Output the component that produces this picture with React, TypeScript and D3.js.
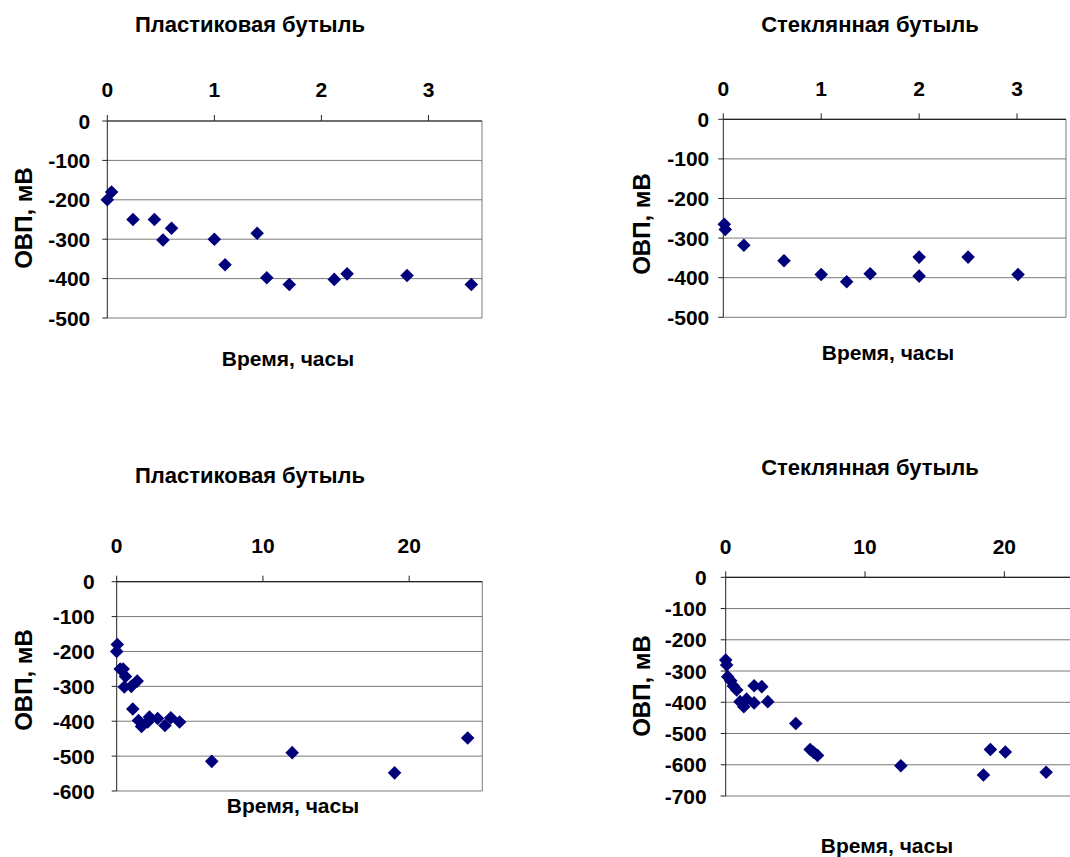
import * as d3 from 'd3';

// ОВП (мВ) по времени (ч)
const plasticShortTime = [0, 0.04, 0.24, 0.44, 0.52, 0.6, 1.0, 1.1, 1.4, 1.49, 1.7, 2.12, 2.24, 2.8, 3.4];
const plasticShortOrp = [-200, -180, -250, -250, -302, -272, -300, -365, -285, -398, -415, -402, -388, -392, -415];

const glassShortTime = [0.01, 0.02, 0.21, 0.62, 1.0, 1.26, 1.5, 2.0, 2.0, 2.5, 3.01];
const glassShortOrp = [-265, -278, -318, -357, -392, -410, -390, -348, -396, -348, -392];

const plasticLongTime = [0, 0.04, 0.24, 0.44, 0.52, 0.6, 1.0, 1.1, 1.4, 1.49, 1.7, 2.12, 2.24, 2.8, 3.3, 3.7, 4.3, 6.5, 12.0, 19.0, 24.0];
const plasticLongOrp = [-200, -180, -250, -250, -302, -272, -300, -365, -285, -398, -415, -402, -388, -392, -412, -390, -402, -515, -490, -548, -448];

const glassLongTime = [0, 0.07, 0.14, 0.36, 0.55, 0.79, 1.03, 1.3, 1.5, 2.04, 2.04, 2.59, 3.02, 5.03, 6.06, 6.3, 6.59, 12.57, 18.5, 19.0, 20.07, 23.0];
const glassLongOrp = [-265, -281, -318, -331, -348, -361, -398, -414, -390, -347, -402, -350, -398, -468, -551, -560, -570, -603, -633, -551, -559, -624];

const shortTicks = [0, 1, 2, 3];
const longTicks = [0, 10, 20];
const orpTicks500 = [0, -100, -200, -300, -400, -500];
const orpTicks600 = [0, -100, -200, -300, -400, -500, -600];
const orpTicks700 = [0, -100, -200, -300, -400, -500, -600, -700];

const titlePlastic = 'Пластиковая бутыль';
const titleGlass = 'Стеклянная бутыль';
const xTitle = 'Время, часы';
const yTitle = 'ОВП, мВ';

const FONT = 'Arimo, "Liberation Sans", Arial, sans-serif';

type PanelProps = {
  title: string;
  xs: number[];
  ys: number[];
  xTicks: number[];
  yTicks: number[];
  xMax: number;
  box: { l: number; r: number; t: number; b: number };
  titlePos: [number, number];
  xLabelPos: [number, number];
  yLabelPos: [number, number];
  xTickY: number;
  yTickGap: number;
};

function Panel(p: PanelProps) {
  const { box } = p;
  const x = d3.scaleLinear().domain([0, p.xMax]).range([box.l, box.r]);
  const y = d3.scaleLinear().domain([d3.min(p.yTicks)!, 0]).range([box.b, box.t]);
  const diamond = d3.symbol(d3.symbolSquare, 92)()!;

  return (
    <g fontFamily={FONT} fontWeight="bold" fill="#000">
      <text x={p.titlePos[0]} y={p.titlePos[1]} textAnchor="middle" fontSize={22}>{p.title}</text>
      <text x={p.xLabelPos[0]} y={p.xLabelPos[1]} textAnchor="middle" fontSize={21}>{xTitle}</text>
      <text transform={`translate(${p.yLabelPos[0]},${p.yLabelPos[1]}) rotate(-90)`} dy="0.36em" textAnchor="middle" fontSize={24}>{yTitle}</text>

      {/* сетка */}
      {p.yTicks.map(v => (
        <line key={'g' + v} x1={box.l} x2={box.r} y1={y(v)} y2={y(v)} stroke="#7a7a7a" strokeWidth={1} />
      ))}
      <line x1={box.r} x2={box.r} y1={box.t} y2={box.b} stroke="#7a7a7a" strokeWidth={1} />

      {/* ось Y */}
      <line x1={box.l} x2={box.l} y1={box.t} y2={box.b} stroke="#222" strokeWidth={1} />
      {p.yTicks.map(v => (
        <g key={'y' + v}>
          <line x1={box.l - 5} x2={box.l} y1={y(v)} y2={y(v)} stroke="#222" />
          <text x={box.l - p.yTickGap} y={y(v)} dy="0.36em" textAnchor="end" fontSize={21}>{v}</text>
        </g>
      ))}

      {/* ось X сверху */}
      <line x1={box.l} x2={box.r} y1={box.t} y2={box.t} stroke="#222" strokeWidth={1.2} />
      {p.xTicks.map(v => (
        <g key={'x' + v}>
          <line x1={x(v)} x2={x(v)} y1={box.t - 6} y2={box.t} stroke="#222" />
          <text x={x(v)} y={p.xTickY} textAnchor="middle" fontSize={21}>{v}</text>
        </g>
      ))}

      {p.xs.map((t, i) => (
        <path key={'p' + i} d={diamond} transform={`translate(${x(t)},${y(p.ys[i])}) rotate(45)`} fill="#00007a" />
      ))}
    </g>
  );
}

export default function App() {
  return (
    <svg width={1070} height={857} style={{ position: 'absolute', left: 0, top: 0, background: '#fff' }}>
      <rect width={1070} height={857} fill="#fff" />
      <Panel title={titlePlastic} xs={plasticShortTime} ys={plasticShortOrp} xTicks={shortTicks} yTicks={orpTicks500} xMax={3.5}
        box={{ l: 107.3, r: 482, t: 121, b: 318 }} titlePos={[250, 32]} xLabelPos={[288, 366]} yLabelPos={[23, 218]}
        xTickY={97} yTickGap={17} />
      <Panel title={titleGlass} xs={glassShortTime} ys={glassShortOrp} xTicks={shortTicks} yTicks={orpTicks500} xMax={3.5}
        box={{ l: 723.3, r: 1066, t: 119.3, b: 317.3 }} titlePos={[870, 32]} xLabelPos={[888, 360]} yLabelPos={[641, 224]}
        xTickY={96} yTickGap={14} />
      <Panel title={titlePlastic} xs={plasticLongTime} ys={plasticLongOrp} xTicks={longTicks} yTicks={orpTicks600} xMax={25}
        box={{ l: 116.7, r: 482.3, t: 581.7, b: 791 }} titlePos={[250, 483]} xLabelPos={[293, 813]} yLabelPos={[23, 680]}
        xTickY={553} yTickGap={22} />
      <Panel title={titleGlass} xs={glassLongTime} ys={glassLongOrp} xTicks={longTicks} yTicks={orpTicks700} xMax={25}
        box={{ l: 725.7, r: 1074, t: 577.3, b: 796 }} titlePos={[870, 475]} xLabelPos={[887, 853]} yLabelPos={[641, 686]}
        xTickY={554} yTickGap={19} />
    </svg>
  );
}
